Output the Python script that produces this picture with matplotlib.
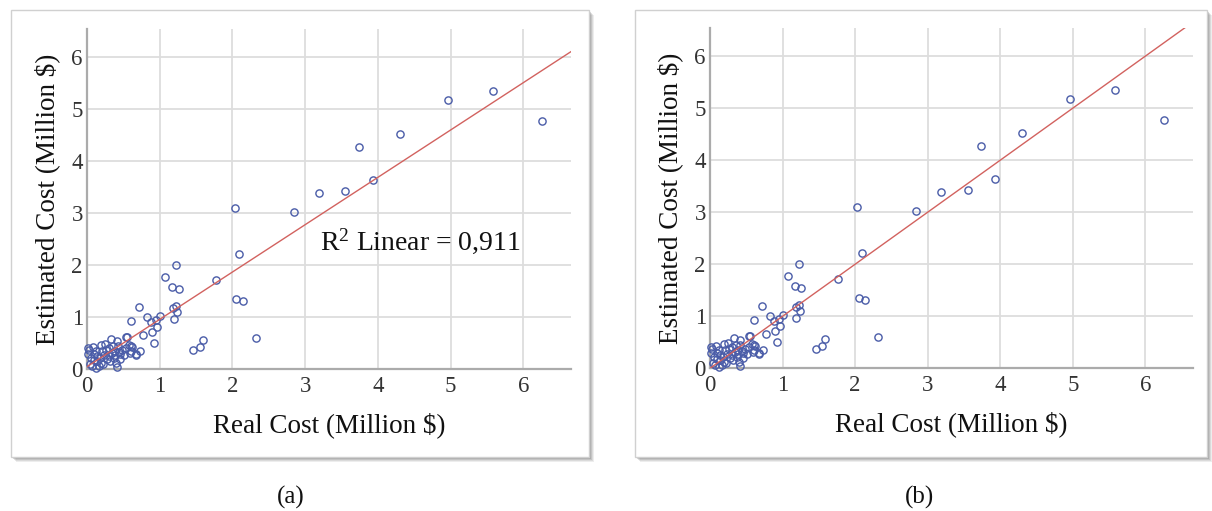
import matplotlib
matplotlib.use("Agg")
import matplotlib.pyplot as plt
from matplotlib.patches import Rectangle
import numpy as np

# ---------------- data ----------------
real_cost = [
    5.58, 4.96, 6.26, 4.30, 3.74, 3.93, 3.19, 3.55, 2.84, 2.03,
    2.09, 1.23, 1.07, 1.77, 1.17, 1.26, 2.05, 2.14, 0.72, 1.18,
    1.23, 1.24, 1.19, 1.01, 0.83, 0.95, 0.88, 0.96, 0.89, 0.77,
    0.92, 0.54, 2.32, 1.59, 1.55, 1.46, 0.68, 0.61,
    0.03, 0.08, 0.02, 0.09, 0.06, 0.04, 0.07, 0.14, 0.12, 0.16,
    0.19, 0.18, 0.23, 0.21, 0.19, 0.25, 0.30, 0.27, 0.32, 0.37,
    0.34, 0.39, 0.33, 0.41, 0.42, 0.46, 0.40, 0.41, 0.46, 0.51,
    0.54, 0.55, 0.60, 0.61, 0.67, 0.73, 0.12, 0.26, 0.30, 0.36,
    0.14, 0.22, 0.48, 0.58, 0.44, 0.10, 0.38, 0.01, 0.59, 0.62,
]
est_cost = [
    5.34, 5.17, 4.78, 4.52, 4.28, 3.63, 3.38, 3.42, 3.03, 3.10,
    2.22, 2.00, 1.78, 1.71, 1.59, 1.55, 1.35, 1.31, 1.20, 1.18,
    1.22, 1.11, 0.96, 1.03, 1.00, 0.94, 0.90, 0.82, 0.72, 0.66,
    0.50, 0.63, 0.61, 0.56, 0.43, 0.37, 0.28, 0.92,
    0.38, 0.43, 0.29, 0.30, 0.21, 0.11, 0.06, 0.16, 0.03, 0.06,
    0.13, 0.22, 0.28, 0.35, 0.46, 0.48, 0.40, 0.19, 0.15, 0.22,
    0.32, 0.36, 0.58, 0.54, 0.45, 0.29, 0.13, 0.05, 0.20, 0.28,
    0.40, 0.62, 0.45, 0.36, 0.30, 0.36, 0.36, 0.38, 0.25, 0.45,
    0.26, 0.10, 0.38, 0.46, 0.34, 0.18, 0.28, 0.40, 0.32, 0.42,
]

# fit line in panel (a) and reference line in panel (b)
fit_a_intercept, fit_a_slope = 0.05, 0.91
fit_b_intercept, fit_b_slope = 0.0, 1.0
r2_text = r"R$^2$ Linear = 0,911"

x_ticks = [0, 1, 2, 3, 4, 5, 6]
y_ticks = [0, 1, 2, 3, 4, 5, 6]
x_title = "Real Cost (Million $)"
y_title = "Estimated Cost (Million $)"
panel_labels = ["(a)", "(b)"]

# ---------------- figure ----------------
W, H = 1212, 511
plt.rcParams["font.family"] = ["Liberation Serif", "DejaVu Serif"]
plt.rcParams["mathtext.fontset"] = "custom"
plt.rcParams["mathtext.rm"] = "Liberation Serif"
plt.rcParams["mathtext.it"] = "Liberation Serif"
fig = plt.figure(figsize=(W / 100, H / 100), dpi=100)
fig.patch.set_facecolor("white")


def frac(x0, y0, x1, y1):
    return (x0 / W, 1 - y1 / H, (x1 - x0) / W, (y1 - y0) / H)


def add_box(x0, y0, x1, y1):
    # soft shadow to the bottom-right
    for i, a in enumerate([0.12, 0.15, 0.2, 0.28, 0.38]):
        off = 5 - i
        l, b, w, h = frac(x0 + off, y0 + off, x1 + off, y1 + off)
        fig.patches.append(Rectangle((l, b), w, h, transform=fig.transFigure,
                                     facecolor="#707070", edgecolor="none",
                                     alpha=a, zorder=0))
    l, b, w, h = frac(x0, y0, x1, y1)
    fig.patches.append(Rectangle((l, b), w, h, transform=fig.transFigure,
                                 facecolor="white", edgecolor="#d0d0d0",
                                 linewidth=1.0, zorder=1))


add_box(11, 10, 589, 457)
add_box(635, 10, 1207, 457)

axes_px = [(87, 29, 570.7, 369.3), (710, 28, 1193.3, 368.3)]
xmax_list = [6.65, 6.66]
ymax = 6.54
lines = [(fit_a_intercept, fit_a_slope), (fit_b_intercept, fit_b_slope)]

for k, (px, xmax, (b0, b1)) in enumerate(zip(axes_px, xmax_list, lines)):
    ax = fig.add_axes(frac(*px))
    ax.set_zorder(2)
    ax.patch.set_alpha(0)
    ax.set_xlim(0, xmax)
    ax.set_ylim(0, ymax)
    ax.set_xticks(x_ticks)
    ax.set_yticks(y_ticks)
    ax.tick_params(length=0, labelsize=16.5, colors="#333333")
    ax.tick_params(axis="x", pad=5)
    ax.tick_params(axis="y", pad=3)
    ax.grid(True, color="#dddddd", linewidth=1.3)
    ax.set_axisbelow(True)
    for s in ["top", "right"]:
        ax.spines[s].set_visible(False)
    for s in ["left", "bottom"]:
        ax.spines[s].set_color("#ababab")
        ax.spines[s].set_linewidth(1.6)

    ax.plot(real_cost, est_cost, linestyle="none", marker="o", markersize=5.2,
            markerfacecolor="none", markeredgecolor="#4a5ca8",
            markeredgewidth=1.0, clip_on=False, zorder=3)
    xs = np.array([0, xmax])
    ax.plot(xs, b0 + b1 * xs, color="#d2625f", linewidth=1.0, zorder=4)

    ax.set_xlabel(x_title, fontsize=19.5, color="#111111", va="center")
    ax.xaxis.set_label_coords(0.5, -0.164)
    ax.set_ylabel(y_title, fontsize=19.5, color="#111111", va="center")
    ax.yaxis.set_label_coords(-0.083, 0.5)

    if k == 0:
        ax.text(3.2, 2.47, r2_text, fontsize=20, color="#111111",
                va="center", ha="left")

fig.text(291 / W, 1 - 497 / H, panel_labels[0], fontsize=18,
         ha="center", va="center", color="#111111")
fig.text(920 / W, 1 - 497 / H, panel_labels[1], fontsize=18,
         ha="center", va="center", color="#111111")

fig.savefig("out.png", dpi=100, facecolor="white")
